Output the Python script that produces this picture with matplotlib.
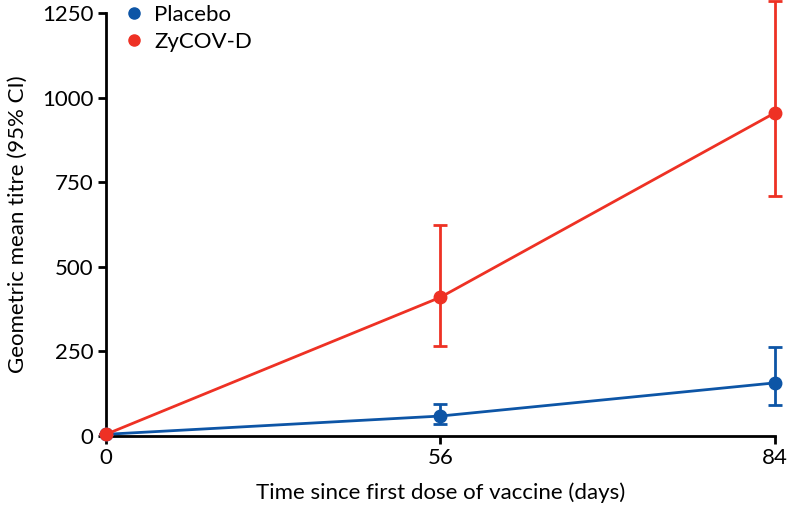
import matplotlib
matplotlib.use("Agg")
import matplotlib.pyplot as plt

plt.rcParams['font.family'] = ['Lato', 'DejaVu Sans']

days = ["0", "56", "84"]
placebo = [5, 59, 157]
placebo_lo = [5, 35, 92]
placebo_hi = [5, 95, 263]
zycov = [5, 410, 955]
zycov_lo = [5, 266, 709]
zycov_hi = [5, 623, 1285]

blue = "#0D55A6"
red = "#EE3124"

fig = plt.figure(figsize=(7.88, 5.15), dpi=100)
ax = fig.add_axes([0.1345, 0.1534, 0.849, 0.8214])

x = list(range(len(days)))

def draw(vals, lo, hi, color, label):
    yerr = [[v - l for v, l in zip(vals, lo)], [h - v for v, h in zip(vals, hi)]]
    ax.errorbar(x, vals, yerr=yerr, color=color, lw=2.0, marker='o', ms=9,
                capsize=5, capthick=2.0, elinewidth=2.0, clip_on=False,
                label=label, zorder=3)

draw(placebo, placebo_lo, placebo_hi, blue, "Placebo")
draw(zycov, zycov_lo, zycov_hi, red, "ZyCOV-D")

ax.set_xlim(0, 2)
ax.set_ylim(0, 1250)
ax.set_xticks(x)
ax.set_xticklabels(days)
ax.set_yticks([0, 250, 500, 750, 1000, 1250])
for s in ['top', 'right']:
    ax.spines[s].set_visible(False)
for s in ['left', 'bottom']:
    ax.spines[s].set_linewidth(2.0)
ax.tick_params(axis='both', labelsize=16, width=2.0, length=6, direction='out', pad=3)

ax.set_xlabel("Time since first dose of vaccine (days)", fontsize=16, labelpad=10)
ax.set_ylabel("Geometric mean titre (95% CI)", fontsize=16, labelpad=10)

from matplotlib.lines import Line2D
handles = [Line2D([], [], ls='none', marker='o', ms=8, color=blue),
           Line2D([], [], ls='none', marker='o', ms=8, color=red)]
ax.legend(handles, ["Placebo", "ZyCOV-D"], loc='upper left', bbox_to_anchor=(-0.008, 1.055),
          frameon=False, fontsize=16, handletextpad=0.1, labelspacing=0.3,
          borderaxespad=0.3, handlelength=1.6)

fig.savefig("out.png", dpi=100)
